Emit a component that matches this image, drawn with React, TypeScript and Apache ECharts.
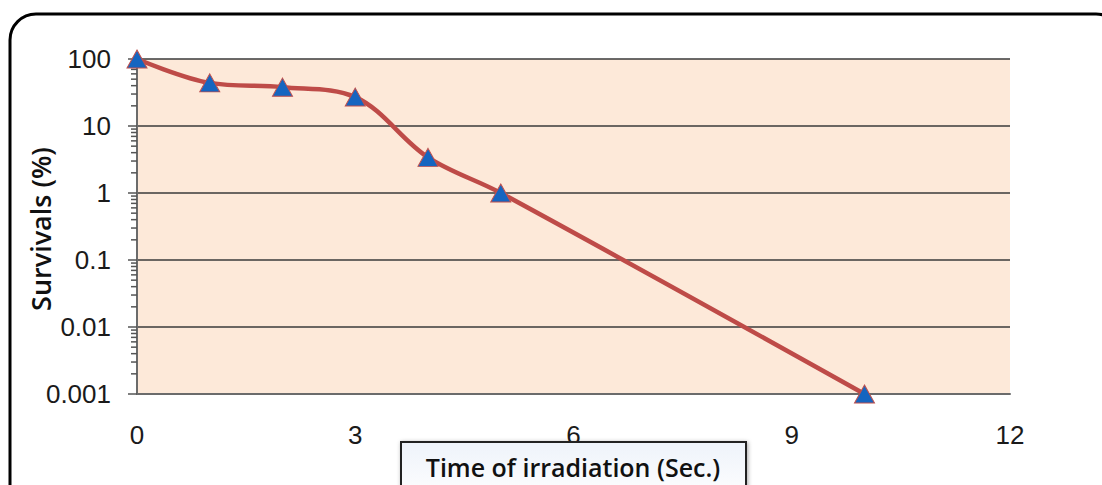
import React, { useEffect, useRef } from "react";
import * as echarts from "echarts";

const timeSec = [0, 1, 2, 3, 4, 5, 10];
const survivalPct = [100, 44, 38, 27, 3.4, 1, 0.001];
const xTicks = [0, 3, 6, 9, 12];
const yDecades = [0.001, 0.01, 0.1, 1, 10, 100];
const minorMultipliers = [2, 3, 4, 5, 6, 7, 8, 9];
const xTitle = "Time of irradiation (Sec.)";
const yTitle = "Survivals (%)";

export default function App() {
  const ref = useRef<HTMLDivElement>(null);
  useEffect(() => {
    if (!ref.current) return;
    const chart = echarts.init(ref.current, undefined, { renderer: "svg" });
    const minorTicks: number[] = [];
    yDecades.slice(0, -1).forEach((d) =>
      minorMultipliers.forEach((m) => minorTicks.push(+(d * m).toPrecision(3)))
    );
    const tickFont = { fontFamily: "Liberation Sans, Arial", fontSize: 26, color: "#1a1a1a" };
    chart.setOption({
      animation: false,
      backgroundColor: "#ffffff",
      grid: {
        left: 137,
        right: 92,
        top: 59,
        bottom: 91,
        show: true,
        backgroundColor: "#FDE9D9",
        borderWidth: 0,
      },
      xAxis: {
        type: "value",
        min: xTicks[0],
        max: xTicks[xTicks.length - 1],
        interval: 3,
        axisLine: { show: true, lineStyle: { color: "#6b6b6b", width: 2 } },
        axisTick: { show: false },
        splitLine: { show: false },
        axisLabel: { ...tickFont, margin: 28 },
      },
      yAxis: {
        type: "log",
        logBase: 10,
        min: yDecades[0],
        max: yDecades[yDecades.length - 1],
        axisLine: { show: true, onZero: false, lineStyle: { color: "#6b6b6b", width: 2 } },
        axisTick: { show: true, length: 9, lineStyle: { color: "#555", width: 1.5 } },
        splitLine: { show: true, lineStyle: { color: "#3a3a3a", width: 1.5 } },
        axisLabel: {
          ...tickFont,
          margin: 26,
          formatter: (v: number) => {
            if (v >= 1) return String(Math.round(v));
            return String(+v.toPrecision(1));
          },
        },
      },
      graphic: [
        {
          type: "rect",
          shape: { x: 10, y: 14, width: 1112, height: 500, r: 26 },
          style: { fill: "none", stroke: "#000", lineWidth: 3 },
          z: -1,
          silent: true,
        },
        {
          type: "rect",
          shape: { x: 401, y: 442, width: 345, height: 60 },
          style: {
            fill: new echarts.graphic.LinearGradient(0, 0, 0, 1, [
              { offset: 0, color: "#eef3fa" },
              { offset: 1, color: "#ffffff" },
            ]),
            stroke: "#222",
            lineWidth: 2,
            shadowBlur: 4,
            shadowColor: "rgba(0,0,0,0.35)",
            shadowOffsetX: 1,
            shadowOffsetY: 1,
          },
          z: 1,
        },
        {
          type: "text",
          x: 573,
          y: 467,
          style: {
            text: xTitle,
            fontFamily: "Open Sans",
            fontWeight: 600,
            fontSize: 25,
            fill: "#111",
            align: "center",
            verticalAlign: "middle",
          },
          z: 2,
        },
        {
          type: "text",
          x: 40,
          y: 229,
          rotation: Math.PI / 2,
          style: {
            text: yTitle,
            fontFamily: "Open Sans",
            fontWeight: 600,
            fontSize: 27,
            fill: "#111",
            align: "center",
            verticalAlign: "middle",
          },
          z: 2,
        },
      ],
      series: [
        {
          type: "custom",
          silent: true,
          clip: false,
          data: minorTicks.map((v) => [0, v]),
          renderItem: (params: any, api: any) => {
            const p = api.coord([api.value(0), api.value(1)]);
            return {
              type: "line",
              shape: { x1: p[0] - 6, y1: p[1], x2: p[0], y2: p[1] },
              style: { stroke: "#555", lineWidth: 1.5 },
            };
          },
          z: 3,
        },
        {
          type: "line",
          data: timeSec.map((t, i) => [t, survivalPct[i]]),
          smooth: 0.35,
          clip: false,
          lineStyle: { color: "#BE4B48", width: 4.5 },
          symbol: "triangle",
          symbolSize: [20, 18],
          itemStyle: { color: "#1565C0", borderColor: "#C0504D", borderWidth: 1 },
          z: 4,
        },
      ],
    });
    return () => chart.dispose();
  }, []);
  return (
    <div
      ref={ref}
      style={{ position: "fixed", left: 0, top: 0, width: 1102, height: 485 }}
    />
  );
}
